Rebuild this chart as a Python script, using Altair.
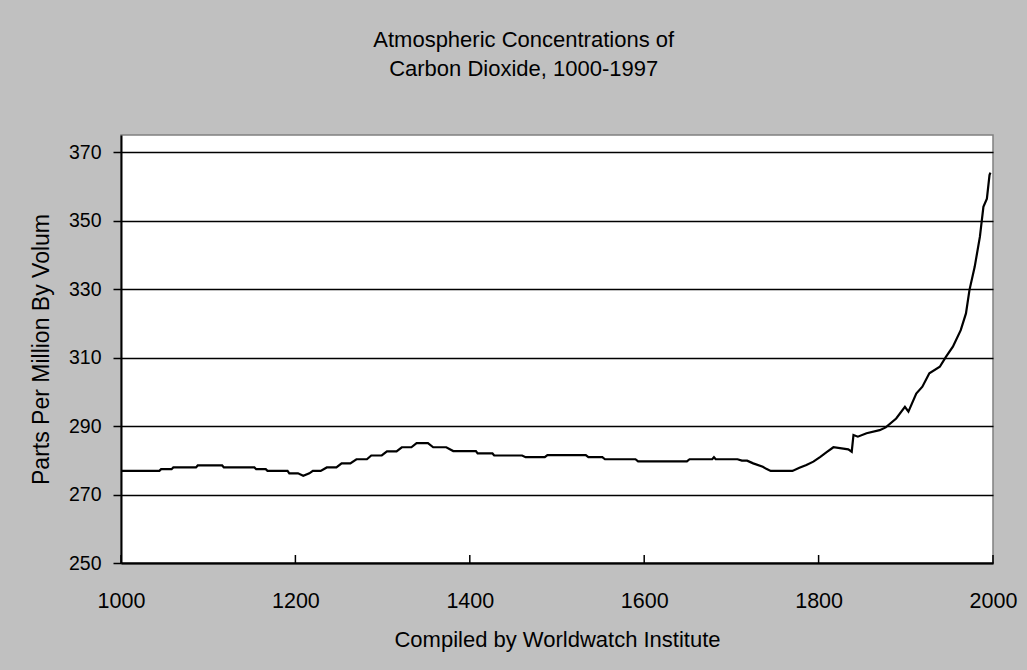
import altair as alt
import pandas as pd

# Data
years = [1000, 1044, 1046, 1058, 1060, 1086, 1088, 1116, 1118, 1153, 1155, 1166, 1168, 1191,
         1193, 1203, 1209, 1216, 1220, 1229, 1236, 1247, 1253, 1263, 1270, 1282, 1287, 1299,
         1305, 1316, 1322, 1333, 1339, 1352, 1358, 1373, 1381, 1407, 1409, 1426, 1428, 1460,
         1464, 1486, 1489, 1533, 1536, 1552, 1555, 1590, 1593, 1649, 1652, 1678, 1680, 1682,
         1707, 1712, 1718, 1725, 1736, 1740, 1745, 1770, 1778, 1786, 1794, 1802, 1810, 1817,
         1834, 1838, 1840, 1845, 1855, 1870, 1877, 1889, 1899, 1903, 1912, 1919, 1927, 1939,
         1946, 1954, 1963, 1969, 1973, 1979, 1985, 1989, 1993, 1996, 1997]
ppm = [276.9, 276.9, 277.4, 277.4, 277.9, 277.9, 278.5, 278.5, 277.9, 277.9, 277.4, 277.4, 276.9, 276.9,
       276.2, 276.2, 275.5, 276.2, 276.9, 276.9, 277.9, 277.9, 279.1, 279.1, 280.3, 280.3, 281.4, 281.4,
       282.6, 282.6, 283.8, 283.8, 285.0, 285.0, 283.8, 283.8, 282.7, 282.7, 282.0, 282.0, 281.4, 281.4,
       280.9, 280.9, 281.5, 281.5, 280.9, 280.9, 280.3, 280.3, 279.7, 279.7, 280.3, 280.3, 280.9, 280.3,
       280.3, 279.9, 279.9, 279.1, 278.1, 277.5, 276.9, 276.9, 277.8, 278.6, 279.6, 281.0, 282.5, 283.8,
       283.2, 282.5, 287.4, 286.9, 287.9, 288.8, 289.6, 292.2, 295.6, 294.2, 299.5, 301.5, 305.4, 307.3,
       310.2, 313.2, 318.0, 322.9, 329.7, 336.5, 345.3, 354.0, 356.4, 363.3, 364.0]

x_ticks = [1000, 1200, 1400, 1600, 1800, 2000]
y_ticks = [250, 270, 290, 310, 330, 350, 370]

FONT = "Liberation Sans"
W, H = 872, 428

df = pd.DataFrame({"year": years, "ppm": ppm})
ticks_df = pd.DataFrame({"year": x_ticks})

x_scale = alt.Scale(domain=[1000, 2000], nice=False)
y_scale = alt.Scale(domain=[250, 375], nice=False, zero=False)

line = alt.Chart(df).mark_line(color="black", strokeWidth=2.2).encode(
    x=alt.X("year:Q", scale=x_scale,
            axis=alt.Axis(values=x_ticks, format="d", title="Compiled by Worldwatch Institute",
                          grid=False, ticks=False, tickSize=0, labelPadding=27,
                          labelFontSize=21.5, titleFontSize=22, titlePadding=18,
                          labelFlush=False)),
    y=alt.Y("ppm:Q", scale=y_scale,
            axis=alt.Axis(values=y_ticks, title="Parts Per Million By Volum",
                          grid=True, tickSize=8, labelPadding=12,
                          labelFontSize=19.5, titleFontSize=23, titlePadding=15)),
)

inner_ticks = alt.Chart(ticks_df).mark_rule(color="black", strokeWidth=1.5).encode(
    x=alt.X("year:Q", scale=x_scale),
    y=alt.value(H - 8),
    y2=alt.value(H),
)

chart = alt.layer(line, inner_ticks).properties(
    width=W,
    height=H,
    autosize=alt.AutoSizeParams(type="none"),
    padding={"left": 121, "top": 135, "right": 34, "bottom": 107},
    background="#c0c0c0",
    title=alt.TitleParams(
        text=["Atmospheric Concentrations of", "Carbon Dioxide, 1000-1997"],
        font=FONT, fontSize=22, fontWeight="normal", color="black",
        lineHeight=29, offset=54, anchor="middle", frame="bounds",
    ),
).configure_view(
    fill="white", stroke="#808080", strokeWidth=1.5
).configure_axis(
    labelFont=FONT, titleFont=FONT, labelColor="black", titleColor="black",
    titleFontWeight="normal", domainColor="black", domainWidth=2,
    tickColor="black", tickWidth=1.5, gridColor="black", gridWidth=1.5, gridOpacity=1,
)

chart.save("out.html", embed_options={"renderer": "svg", "actions": False})
